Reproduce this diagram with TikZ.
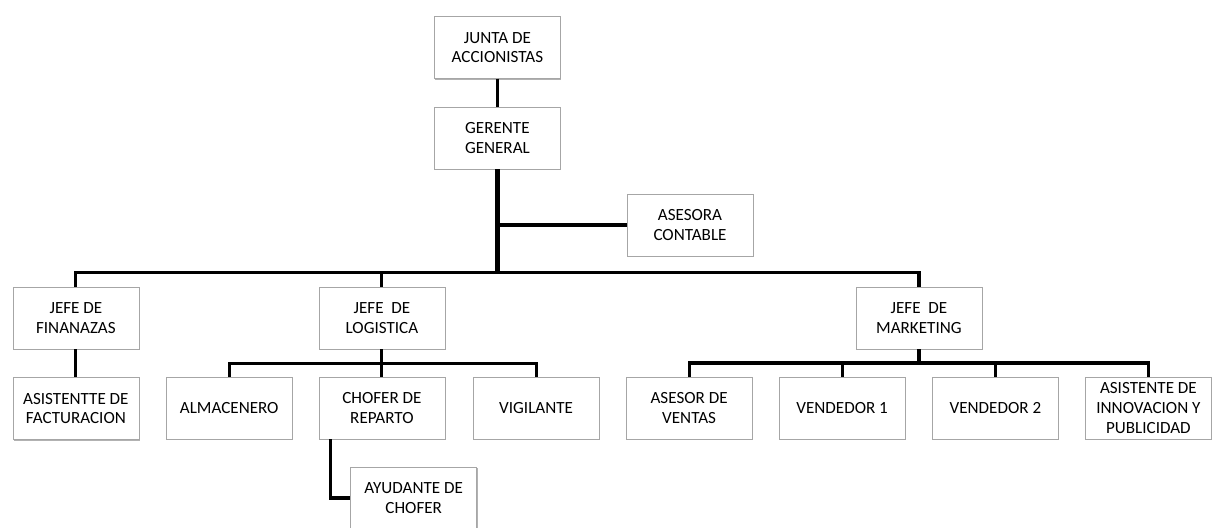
\documentclass[tikz,border=0pt]{standalone}
\usepackage{fontspec}
\setmainfont{Carlito}
\usepackage{tikz}
\definecolor{gris400}{HTML}{A6A6A6}
\usetikzlibrary{shadows}
\tikzstyle{caja}=[rectangle, draw=gris400, fill=white, minimum width=4.2cm, minimum height=2.07cm, inner sep=1pt, align=center, font=\fontsize{16.2}{18.6}\selectfont, drop shadow={shadow xshift=1pt, shadow yshift=-1pt, fill=black, opacity=0.3}]
\tikzstyle{linea}=[line width=3pt, black]

\begin{document}
\begin{tikzpicture}
				\useasboundingbox (0,0) rectangle (40.433,-17.567);
				\node[caja] (junta) at (16.58,-1.58) {JUNTA DE\\ACCIONISTAS};
				\node[caja] (gerente) at (16.58,-4.6) {GERENTE\\GENERAL};
				\node[caja] (asesora) at (23.0,-7.5) {ASESORA\\CONTABLE};
				\node[caja] (finanzas) at (2.53,-10.6) {JEFE DE\\FINANAZAS};
				\node[caja] (logistica) at (12.73,-10.6) {JEFE \ DE\\LOGISTICA};
				\node[caja] (marketing) at (30.63,-10.6) {JEFE \ DE\\MARKETING};
				\node[caja] (facturacion) at (2.53,-13.62) {ASISTENTTE DE\\FACTURACION};
				\node[caja] (almacenero) at (7.64,-13.6) {ALMACENERO};
				\node[caja] (chofer) at (12.73,-13.6) {CHOFER DE\\REPARTO};
				\node[caja] (vigilante) at (17.87,-13.6) {VIGILANTE};
				\node[caja] (ventas) at (22.97,-13.6) {ASESOR DE\\VENTAS};
				\node[caja] (vendedor1) at (28.07,-13.6) {VENDEDOR 1};
				\node[caja] (vendedor2) at (33.18,-13.6) {VENDEDOR 2};
				\node[caja] (innovacion) at (38.28,-13.6) {ASISTENTE DE\\INNOVACION Y\\PUBLICIDAD};
				\node[caja] (ayudante) at (13.79,-16.6) {AYUDANTE DE\\CHOFER};
				\coordinate (barra) at (16.58,-9.07);
				\coordinate (barralog) at (12.73,-12.12);
				\coordinate (barramkt) at (30.63,-12.1);
				\draw[linea] (junta) -- (gerente);
				\draw[linea, line width=4pt] (gerente) -- (barra);
				\draw[linea] (gerente |- asesora) -- (asesora);
				\draw[linea] (finanzas.north) |- (barra) -| (marketing.north);
				\draw[linea] (logistica.north) -- (logistica |- barra);
				\draw[linea] (finanzas) -- (facturacion);
				\draw[linea] (logistica) -- (chofer);
				\draw[linea] (almacenero.north) |- (barralog) -| (vigilante.north);
				\draw[linea] (marketing) -- (barramkt);
				\draw[linea] (ventas.north) |- (barramkt) -| (innovacion.north);
				\draw[linea] (vendedor1.north) -- (vendedor1 |- barramkt);
				\draw[linea] (vendedor2.north) -- (vendedor2 |- barramkt);
				\draw[linea] ([xshift=0.4cm]chofer.south west) |- (ayudante.west);
			\end{tikzpicture}
\end{document}
